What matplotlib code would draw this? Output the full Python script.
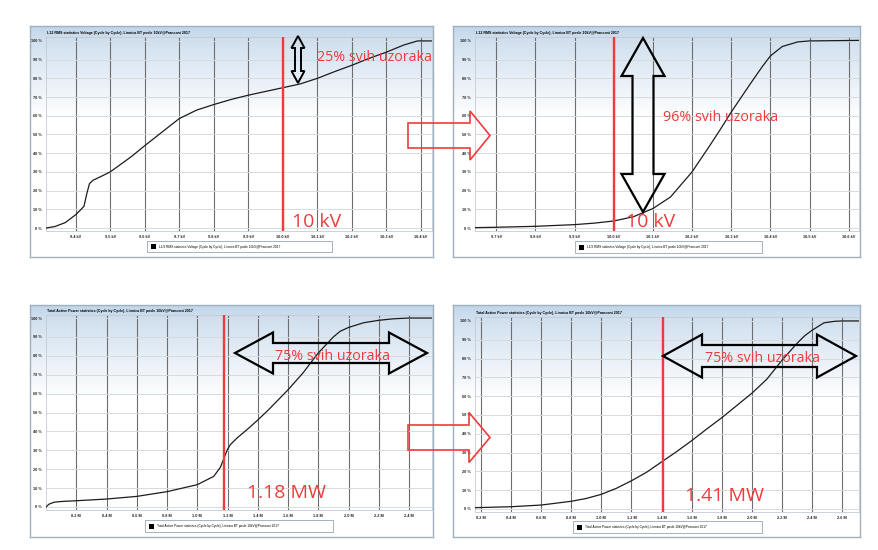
import numpy as np
import matplotlib
matplotlib.use('Agg')
import matplotlib.pyplot as plt
from matplotlib.patches import Polygon, Rectangle
from matplotlib.colors import LinearSegmentedColormap

plt.rcParams['font.family'] = ['Open Sans', 'DejaVu Sans']

# ---- podaci (CDF krivulje ocitane sa slike) ----
# napon, prije (kV / % uzoraka)
u_before_kv = [9.314, 9.34, 9.37, 9.4, 9.412, 9.424, 9.433, 9.44, 9.45, 9.475, 9.5, 9.56,
               9.6, 9.655, 9.7, 9.75, 9.8, 9.85, 9.9, 9.95, 10.0, 10.05, 10.1, 10.15,
               10.2, 10.25, 10.3, 10.35, 10.39, 10.43]
u_before_pct = [0, 0.8, 2.9, 7.1, 9.3, 11.6, 19, 23.7, 25.5, 27.7, 30, 38,
                44, 52, 58.5, 63, 66, 68.7, 71, 73, 75, 77, 80, 83.6,
                87, 90.7, 94, 97.8, 100, 100]
# napon, poslije
u_after_kv = [9.647, 9.7, 9.8, 9.9, 9.95, 10.0, 10.05, 10.1, 10.145, 10.2, 10.245,
              10.27, 10.3, 10.35, 10.38, 10.4, 10.43, 10.47, 10.5, 10.626]
u_after_pct = [0.2, 0.4, 0.9, 1.8, 2.6, 3.75, 6, 10.4, 16.6, 30, 44,
               52, 62, 77.5, 86.5, 92, 97, 99.5, 100, 100.3]
# snaga, prije (MW / % uzoraka)
p_before_mw = [0.0, 0.02, 0.053, 0.1, 0.2, 0.4, 0.6, 0.8, 1.0, 1.109, 1.153, 1.186,
               1.2, 1.219, 1.263, 1.33, 1.4, 1.472, 1.6, 1.7, 1.747, 1.8, 1.9, 1.945,
               2.0, 2.1, 2.2, 2.3, 2.4, 2.552]
p_before_pct = [0, 1.5, 2.5, 2.9, 3.3, 4.2, 5.6, 8.1, 11.8, 16.2, 21, 27.7,
                30.5, 33, 36.5, 41, 46, 51.5, 62, 71, 76, 81.5, 90, 93,
                95, 97.5, 98.8, 99.6, 100, 100]
# snaga, poslije
p_after_mw = [0.16, 0.4, 0.6, 0.8, 0.9, 1.0, 1.1, 1.2, 1.3, 1.4, 1.5, 1.6, 1.7, 1.8,
              1.9, 2.0, 2.1, 2.2, 2.3, 2.35, 2.4, 2.48, 2.55, 2.6, 2.713]
p_after_pct = [0.7, 1.2, 2.1, 4.1, 5.6, 7.8, 11, 15, 19.5, 25, 30.5, 36.3, 42.5, 48.5,
               55, 61.5, 69, 79, 88, 92, 95, 99, 99.8, 100, 100]

u_before_ticks = [9.4, 9.5, 9.6, 9.7, 9.8, 9.9, 10.0, 10.1, 10.2, 10.3, 10.4]
u_after_ticks = [9.7, 9.8, 9.9, 10.0, 10.1, 10.2, 10.3, 10.4, 10.5, 10.6]
p_before_ticks = [0.2, 0.4, 0.6, 0.8, 1.0, 1.2, 1.4, 1.6, 1.8, 2.0, 2.2, 2.4]
p_after_ticks = [0.2, 0.4, 0.6, 0.8, 1.0, 1.2, 1.4, 1.6, 1.8, 2.0, 2.2, 2.4, 2.6]
pct_ticks = [0, 10, 20, 30, 40, 50, 60, 70, 80, 90, 100]

u_title = 'L12 RMS statistics Voltage (Cycle by Cycle), Linnica BT posle 10kV@Pranconi 2017'
u_legend = 'L1/2 RMS statistics Voltage (Cycle by Cycle), Linnica BT posle 10kV@Pranconi 2017'
p_title = 'Total Active Power statistics (Cycle by Cycle), Linnica BT posle 10kV@Pranconi 2017'
p_legend = 'Total Active Power statistics (Cycle by Cycle), Linnica BT posle 10kV@Pranconi 2017'

RED = '#ee3c3c'
W, H = 879, 550

fig = plt.figure(figsize=(W / 100, H / 100), dpi=100)
fig.patch.set_facecolor('white')

fade = LinearSegmentedColormap.from_list(
    'fade', [(0, '#c1d6ea'), (0.06, '#d1e0ef'), (0.4, '#ffffff'), (1, '#ffffff')])
grad = np.linspace(0, 1, 256).reshape(-1, 1)


def box(x0, y0, x1, y1):
    # piksel okvir (ishodiste gore lijevo) -> udio figure
    return [x0 / W, 1 - y1 / H, (x1 - x0) / W, (y1 - y0) / H]


def fp(pts):
    return [(x / W, 1 - y / H) for x, y in pts]


def panel(frame, plot, xs, ys, xlim, ylim, ticks, fmt, title, leg_box, leg_text, redx):
    fx = fig.add_axes(box(*frame))
    fx.imshow(grad, cmap=fade, aspect='auto', extent=[0, 1, 0, 1])
    fx.set_xticks([])
    fx.set_yticks([])
    for s in fx.spines.values():
        s.set_color('#a3b0bd')
        s.set_linewidth(1.0)
    fig.text(plot[0] / W + 0.001, 1 - (plot[1] - 4) / H, title, fontsize=2.6,
             fontweight='bold', family='Liberation Sans', va='center')

    ax = fig.add_axes(box(*plot))
    ax.set_facecolor('none')
    ax.plot(xs, ys, color='#1c1c1c', lw=0.9, zorder=3)
    ax.axvline(redx, color=RED, lw=1.7, zorder=4)
    ax.set_xlim(*xlim)
    ax.set_ylim(*ylim)
    ax.set_xticks(ticks)
    ax.set_xticklabels([fmt.format(t) for t in ticks])
    ax.set_yticks(pct_ticks)
    ax.set_yticklabels(['{} %'.format(p) for p in pct_ticks])
    ax.tick_params(length=0, labelsize=2.8, pad=3, colors='#222222')
    for lab in ax.get_xticklabels() + ax.get_yticklabels():
        lab.set_family('Liberation Sans')
        lab.set_fontweight('bold')
    ax.grid(axis='x', color='#6e6e6e', lw=0.8)
    ax.grid(axis='y', color='#d6dbe0', lw=0.7)
    ax.set_axisbelow(True)
    for s in ax.spines.values():
        s.set_color('#c3cbd3')
        s.set_linewidth(0.6)

    lx0, ly0, lx1, ly1 = leg_box
    fig.add_artist(Rectangle(((lx0) / W, 1 - ly1 / H), (lx1 - lx0) / W, (ly1 - ly0) / H,
                             transform=fig.transFigure, facecolor='white',
                             edgecolor='#9aa6b2', lw=0.6))
    cy = (ly0 + ly1) / 2
    fig.add_artist(Rectangle(((lx0 + 4) / W, 1 - (cy + 2.5) / H), 5 / W, 5 / H,
                             transform=fig.transFigure, facecolor='black', lw=0))
    fig.text((lx0 + 12) / W, 1 - cy / H, leg_text, fontsize=2.3, va='center',
             family='Liberation Sans')
    return ax


def outline(pts, color, lw):
    fig.add_artist(Polygon(fp(pts), closed=True, transform=fig.transFigure,
                           fill=False, edgecolor=color, lw=lw, zorder=5))


def v_double(cx, top, bot, hw, sw, hl):
    return [(cx, top), (cx + hw, top + hl), (cx + sw, top + hl), (cx + sw, bot - hl),
            (cx + hw, bot - hl), (cx, bot), (cx - hw, bot - hl), (cx - sw, bot - hl),
            (cx - sw, top + hl), (cx - hw, top + hl)]


def h_double(left, right, cy, hw, sw, hl):
    return [(left, cy), (left + hl, cy - hw), (left + hl, cy - sw), (right - hl, cy - sw),
            (right - hl, cy - hw), (right, cy), (right - hl, cy + hw), (right - hl, cy + sw),
            (left + hl, cy + sw), (left + hl, cy + hw)]


def h_single(tail, tip, cy, hw, sw, hl):
    return [(tail, cy - sw), (tip - hl, cy - sw), (tip - hl, cy - hw), (tip, cy),
            (tip - hl, cy + hw), (tip - hl, cy + sw), (tail, cy + sw)]


a1 = panel((30, 26, 433, 257), (46, 37, 432, 231), u_before_kv, u_before_pct,
           (9.314, 10.432), (-1.6, 102.1), u_before_ticks, '{:.1f} kV', u_title,
           (147, 241, 332, 252), u_legend, 10.0)
a2 = panel((453, 26, 860, 257), (475, 37, 859, 231), u_after_kv, u_after_pct,
           (9.646, 10.626), (-1.6, 102.1), u_after_ticks, '{:.1f} kV', u_title,
           (575, 241, 762, 253), u_legend, 10.0)
a3 = panel((30, 305, 433, 537), (46, 315, 432, 510), p_before_mw, p_before_pct,
           (0.0, 2.552), (-1.6, 101.6), p_before_ticks, '{:.1f} M', p_title,
           (145, 520, 333, 532), p_legend, 1.18)
a4 = panel((453, 305, 860, 537), (475, 317, 859, 512), p_after_mw, p_after_pct,
           (0.16, 2.713), (-1.6, 102.1), p_after_ticks, '{:.1f} M', p_title,
           (573, 521, 762, 533), p_legend, 1.41)

# crveni tekstovi
a1.text(10.026, 0.5, '10 kV', color=RED, fontsize=14, va='baseline', zorder=6)
a2.text(10.032, 0.5, '10 kV', color=RED, fontsize=14, va='baseline', zorder=6)
a3.text(1.331, 4.8, '1.18 MW', color=RED, fontsize=14, va='baseline', zorder=6)
a4.text(1.555, 4.3, '1.41 MW', color=RED, fontsize=14, va='baseline', zorder=6)
a1.text(10.099, 89.3, '25% svih uzoraka', color=RED, fontsize=10.3, va='baseline', zorder=6)
a2.text(10.126, 57.2, '96% svih uzoraka', color=RED, fontsize=10.3, va='baseline', zorder=6)
a3.text(1.517, 77.8, '75% svih uzoraka', color=RED, fontsize=10.3, va='baseline', zorder=6)
a4.text(1.688, 78.2, '75% svih uzoraka', color=RED, fontsize=10.3, va='baseline', zorder=6)

# strelice
outline(v_double(298, 36, 83, 6.5, 3, 12), 'black', 1.4)
outline(v_double(643, 38, 212, 21.5, 10.5, 38), 'black', 1.6)
outline(h_double(235, 427, 353, 20.5, 10, 38), 'black', 1.6)
outline(h_double(663, 856, 356, 21.5, 11, 39), 'black', 1.6)
outline(h_single(408, 490, 135.5, 24.5, 12.5, 20), RED, 1.2)
outline(h_single(408, 490, 437.5, 25, 12.5, 21), RED, 1.2)

fig.savefig('out.png', dpi=100, facecolor='white')
